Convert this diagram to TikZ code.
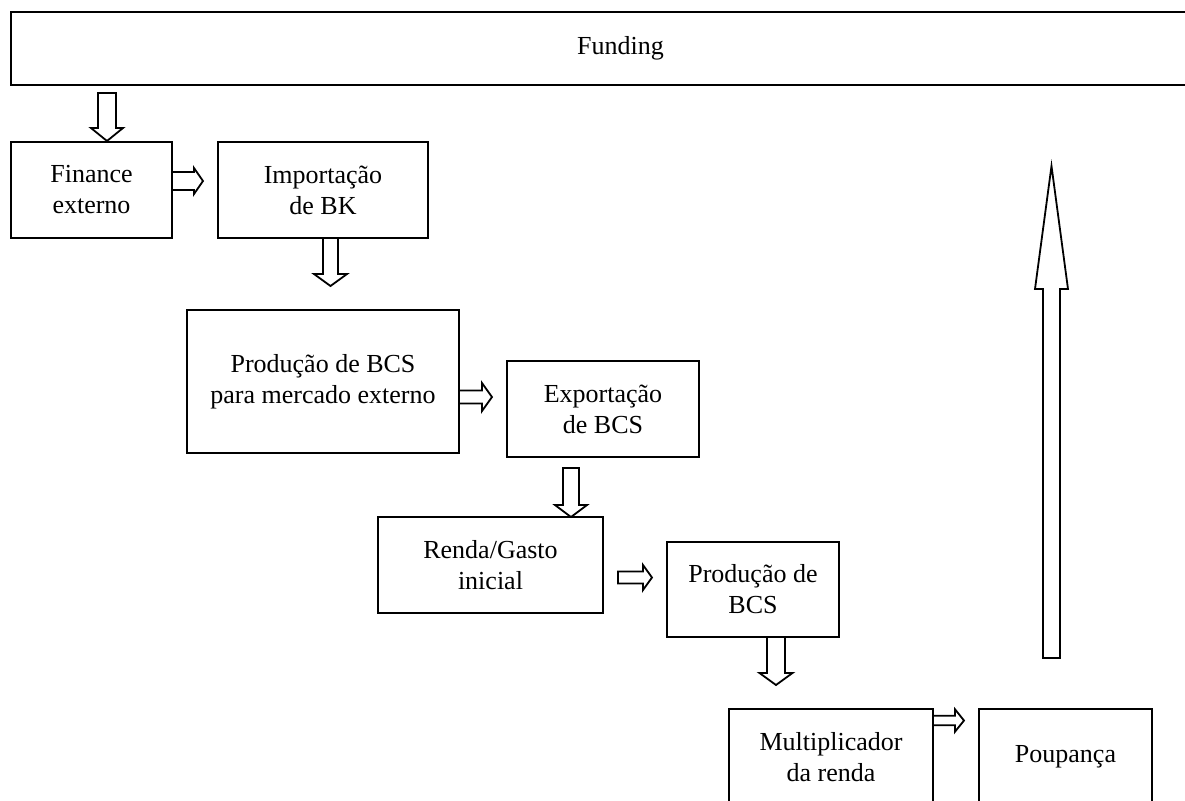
\documentclass[tikz,border=0pt]{standalone}
\usepackage{fontspec}
\setmainfont{Liberation Serif}
\usetikzlibrary{positioning,calc}

\tikzset{
  flowbox/.style={draw, line width=1pt, inner sep=0pt, outer sep=0pt, align=center,
    font=\fontsize{13}{15.5}\selectfont},
  arrowline/.style={line width=0.9pt, line join=miter},
  pics/downarrow/.style args={#1/#2/#3/#4}{code={
    \draw[arrowline] (-#2,0) -- (-#2,{#1-(#4)}) -- (-#3,{#1-(#4)}) -- (0,#1)
      -- (#3,{#1-(#4)}) -- (#2,{#1-(#4)}) -- (#2,0) -- cycle;}},
  pics/rightarrow/.style args={#1/#2/#3/#4}{code={
    \draw[arrowline] (0,-#2) -- ({#1-(#4)},-#2) -- ({#1-(#4)},-#3) -- (#1,0)
      -- ({#1-(#4)},#3) -- ({#1-(#4)},#2) -- (0,#2) -- cycle;}},
}

\begin{document}
\begin{tikzpicture}[x=0.5pt, y=-0.5pt]
  \useasboundingbox (0,0) rectangle (1185,800);
  \clip (0,0) rectangle (1185,800);

  % Boxes
  \node[flowbox, minimum width=609.5pt, minimum height=36.5pt] (fund) at (620.5,48.5) {Funding};
  \node[flowbox, minimum width=80.5pt, minimum height=48pt] (fin) at (91.5,190) {Finance\\externo};
  \node[flowbox, minimum width=105pt, minimum height=48pt] (imp) at (323,190) {Importação\\de BK};
  \node[flowbox, minimum width=136pt, minimum height=71.5pt] (prodext) at (323,381.5) {Produção de BCS\\para mercado externo};
  \node[flowbox, minimum width=96pt, minimum height=48pt] (exp) at (603,409) {Exportação\\de BCS};
  \node[flowbox, minimum width=112.5pt, minimum height=48pt] (renda) at (490.5,565) {Renda/Gasto\\inicial};
  \node[flowbox, minimum width=86pt, minimum height=47.5pt] (prodbcs) at (753,589.5) {Produção de\\BCS};
  \node[flowbox, minimum width=102pt, minimum height=48pt] (mult) at (831,757) {Multiplicador\\da renda};
  \node[flowbox, minimum width=86.5pt, minimum height=48pt] (poup) at (1065.5,757) {Poupança};

  % Block arrows
  \pic at ($(fund.south west)+(96,8)$) {downarrow=48/9/16/13};
  \pic at ($(fin.east)+(0,-9)$) {rightarrow=31/9/13/9};
  \pic at ($(imp.south)+(7.5,0)$) {downarrow=48/7.5/16.5/12};
  \pic at ($(prodext.east)+(0,15.5)$) {rightarrow=33/6.5/14/10};
  \pic at ($(exp.south)+(-32,11)$) {downarrow=49/8/16/12};
  \pic at ($(renda.east)+(15,12.5)$) {rightarrow=34/6/12.5/9};
  \pic at ($(prodbcs.south)+(23,0)$) {downarrow=48/9/16.5/12};
  \pic at ($(mult.north east)+(0,11.5)$) {rightarrow=31/4.7/11.2/9};

  % Savings back to funding
  \pic at ($(poup.north)+(-14,-51)$) {downarrow=-492/8.5/16.5/-123};
\end{tikzpicture}
\end{document}
